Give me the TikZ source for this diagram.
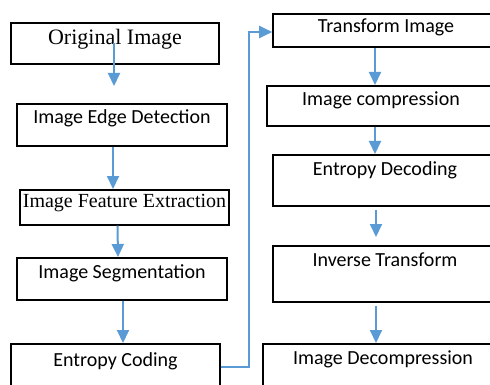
\documentclass[tikz,border=0pt]{standalone}
\usepackage{fontspec}
\setmainfont{Carlito}
\newfontfamily\tnr{Liberation Serif}
\usetikzlibrary{arrows.meta,calc}
\definecolor{arrblue}{HTML}{5B9BD5}
\tikzset{blk/.style={draw,line width=1.6pt,anchor=north,inner xsep=0pt,inner ysep=0pt,font=\fontsize{20}{24}\selectfont},
  serif/.style={blk,font=\tnr\fontsize{20}{24}\selectfont},
  arr/.style={-{Triangle[length=13pt,width=12pt]},line width=2pt,draw=arrblue}}

\begin{document}
\begin{tikzpicture}[x=1pt,y=-1pt]
\useasboundingbox (0,0) rectangle (490,385);
\clip (0,0) rectangle (490,385);
\fill[white] (0,0) rectangle (490,385);
% left column
\node[serif,font=\tnr\fontsize{22}{26}\selectfont,minimum width=208,text height=22,text depth=19] (orig) at (115,22) {Original Image};
\node[blk,minimum width=210,text height=20,text depth=22] (edge) at (122,103) {Image Edge Detection};
\node[serif,minimum width=209,text height=18,text depth=17] (feat) at (124.5,189) {Image Feature Extraction};
\node[blk,minimum width=210,text height=21,text depth=21] (seg) at (122,257) {Image Segmentation};
\node[blk,minimum width=209,text height=23,text depth=40] (enc) at (115.5,343) {Entropy Coding};
% right column
\node[blk,minimum width=226,text height=19,text depth=14] (trans) at (386,13) {Transform Image};
\node[blk,minimum width=228,text height=20,text depth=20] (comp) at (381,85) {Image compression};
\node[blk,minimum width=224,text height=21,text depth=30] (dec) at (385,154) {Entropy Decoding};
\node[blk,minimum width=224,text height=21,text depth=35] (inv) at (385,245) {Inverse Transform};
\node[blk,minimum width=240,text height=21,text depth=40] (decomp) at (383,343) {Image Decompression};
% arrows
\draw[arr,shorten >=17] ([xshift=-1]orig.center) -- ([xshift=-1]orig.center |- edge.north);
\draw[arr] ([xshift=-9]edge.south) -- ([xshift=-9]edge.south |- feat.north);
\draw[arr] ([xshift=-7]feat.south) -- ([xshift=-4]seg.north);
\draw[arr] ([xshift=1]seg.south) -- ([xshift=1]seg.south |- enc.north);
\draw[arr] ([yshift=-24]enc.north east) -- ++(28,0) |- ([yshift=-19]trans.north west);
\draw[arr] ([xshift=-11]trans.south) -- ([xshift=-11]trans.south |- comp.north);
\draw[arr] ([xshift=-6]comp.south) -- ([xshift=-6]comp.south |- dec.north);
\draw[arr,shorten <=3,shorten >=8] ([xshift=-9]dec.south) -- ([xshift=-9]dec.south |- inv.north);
\draw[arr,shorten <=3] ([xshift=-9]inv.south) -- ([xshift=-9]inv.south |- decomp.north);
\end{tikzpicture}
\end{document}
